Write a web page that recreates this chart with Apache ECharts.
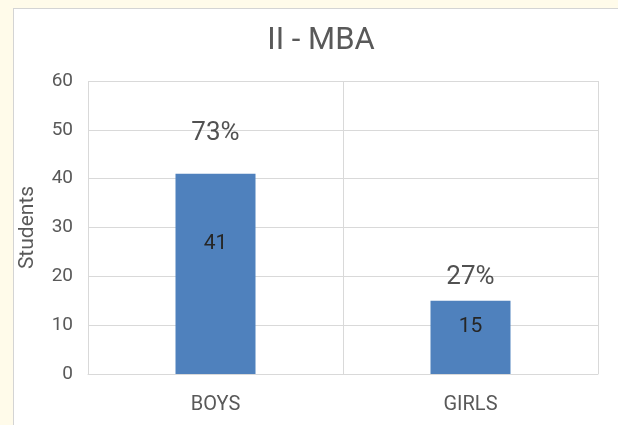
<!DOCTYPE html>
<html>
<head>
<meta charset="utf-8">
<script src="https://cdn.jsdelivr.net/npm/echarts@6/dist/echarts.min.js"></script>
<style>
    html, body { margin: 0; padding: 0; background: #fffbea; }
    #frame { position: absolute; left: 13px; top: 8px; width: 620px; height: 430px; background: #fff; border: 1px solid #d4d4d4; }
    #chartWrapper { position: absolute; left: 0; top: 0; width: 618px; height: 425px; }
</style>
</head>
<body>
<div id="frame"></div>
<div id="chartWrapper"></div>
<script>
// 数据
var categories = ['BOYS', 'GIRLS'];
var students = [41, 15];
var shares = ['73%', '27%'];

var FONT = "Roboto, sans-serif";

var myChart = echarts.init(document.getElementById('chartWrapper'));

// 柱内数字 / 柱上百分比 的偏移（照原图摆放）
var innerOffset = [59, 15];
var topDistance = [27, 10];

var option = {
    textStyle: { fontFamily: FONT },
    title: {
        text: 'II - MBA',
        left: 316,
        textAlign: 'center',
        top: 21,
        textStyle: { fontFamily: FONT, fontSize: 31, fontWeight: 'normal', color: '#595959' }
    },
    grid: { left: 88, right: 20, top: 81, bottom: 51 },
    xAxis: {
        type: 'category',
        data: categories,
        axisTick: { show: false },
        axisLine: { lineStyle: { color: '#d9d9d9', width: 1 } },
        splitLine: { show: true, lineStyle: { color: '#d9d9d9' } },
        axisLabel: { margin: 21, fontFamily: FONT, fontSize: 20, color: '#595959' }
    },
    yAxis: {
        type: 'value',
        min: 0,
        max: 60,
        interval: 10,
        name: 'Students',
        nameLocation: 'middle',
        nameGap: 50,
        nameRotate: 90,
        nameTextStyle: { fontFamily: FONT, fontSize: 21, color: '#595959' },
        axisLine: { show: false },
        axisTick: { show: false },
        splitLine: { lineStyle: { color: '#d9d9d9' } },
        axisLabel: { margin: 15, fontFamily: FONT, fontSize: 19, color: '#595959' }
    },
    series: [{
        name: 'Students',
        type: 'bar',
        barWidth: 80,
        itemStyle: { color: '#4f81bd' },
        data: students.map(function (v, i) {
            return {
                value: v,
                label: {
                    show: true,
                    position: 'insideTop',
                    distance: innerOffset[i],
                    fontFamily: FONT,
                    fontSize: 21,
                    color: '#262626'
                }
            };
        })
    }, {
        name: 'Share',
        type: 'scatter',
        symbolSize: 0,
        silent: true,
        data: students.map(function (v, i) {
            return {
                value: v,
                label: {
                    show: true,
                    position: 'top',
                    distance: topDistance[i],
                    formatter: shares[i],
                    fontFamily: FONT,
                    fontSize: 26,
                    color: '#262626'
                }
            };
        })
    }]
};

myChart.setOption(option);
</script>
</body>
</html>
